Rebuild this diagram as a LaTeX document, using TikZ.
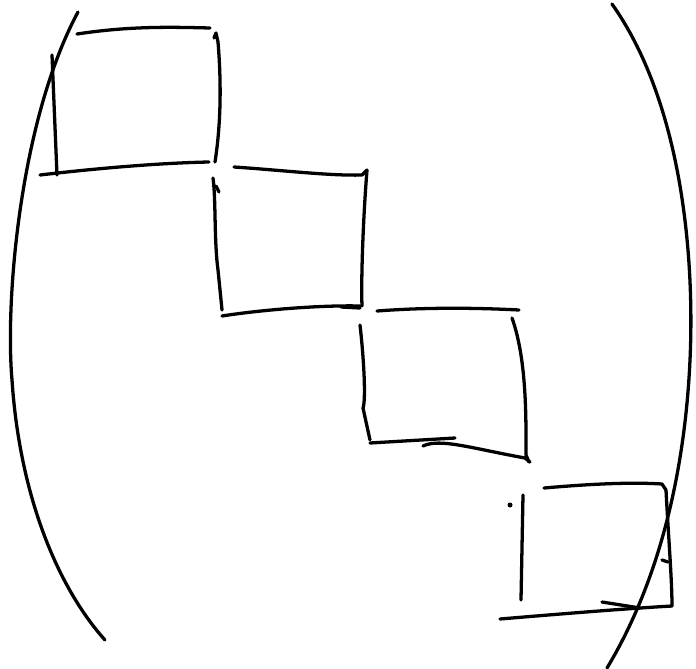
\documentclass[tikz,border=0pt]{standalone}
\usepackage{tikz}
\begin{document}
\begin{tikzpicture}[x=0.03cm, y=-0.03cm, line width=2.8pt, line cap=round, line join=round,
  pen/.style={draw=black}]
  \useasboundingbox (0,0) rectangle (696,668);
  % parentheses
  \draw[pen] (78,12) .. controls (20,120) and (5,300) .. (12,380)
             .. controls (20,500) and (60,590) .. (105,640);
  \draw[pen] (612,4) .. controls (680,100) and (695,250) .. (690,360)
             .. controls (685,470) and (660,580) .. (607,668);
  % block 1
  \draw[pen] (77,34) .. controls (130,26) and (170,27) .. (210,28);
  \draw[pen] (214,38) -- (216,33) -- (218,42) .. controls (222,90) and (220,130) .. (215,162);
  \draw[pen] (52,55) -- (57,175);
  \draw[pen] (40,175) .. controls (100,168) and (160,163) .. (209,162);
  % block 2
  \draw[pen] (234,167) .. controls (280,170) and (330,176) .. (362,175) -- (367,170);
  \draw[pen] (213,178) .. controls (216,200) and (214,240) .. (218,270) -- (222,310);
  \draw[pen] (216,186) -- (219,192);
  \draw[pen] (367,170) .. controls (363,220) and (361,280) .. (362,306);
  \draw[pen] (222,316) .. controls (260,310) and (320,305) .. (360,306);
  \draw[pen] (341,307) -- (360,308);
  % block 3
  \draw[pen] (377,311) .. controls (430,307) and (480,308) .. (519,310);
  \draw[pen] (512,318) .. controls (527,360) and (526,420) .. (526,455) -- (529,462);
  \draw[pen] (360,325) .. controls (364,360) and (366,400) .. (363,408) -- (370,440);
  \draw[pen] (370,443) -- (455,438);
  \draw[pen] (423,446) .. controls (440,438) and (470,448) .. (525,458) -- (530,462);
  % block 4
  \draw[pen] (544,488) .. controls (590,484) and (630,482) .. (662,484) -- (666,490);
  \draw[pen] (666,490) .. controls (668,530) and (672,580) .. (672,606);
  \draw[pen] (662,560) -- (668,562);
  \draw[pen] (523,495) -- (521,600);
  \fill (510,505) circle (2.5);
  \draw[pen] (500,619) .. controls (560,614) and (620,609) .. (672,606);
  \draw[pen] (602,602) -- (640,608);
\end{tikzpicture}
\end{document}
